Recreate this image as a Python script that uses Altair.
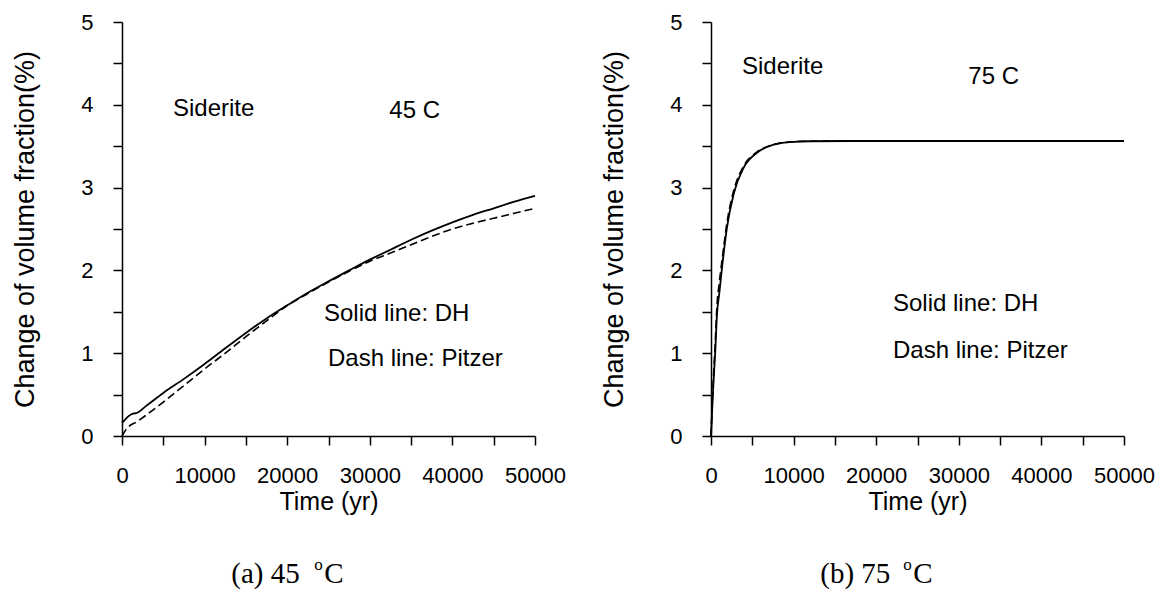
import altair as alt
import pandas as pd

# ---------------- data ----------------
# Panel (a) 45 C
t45_dh = [0, 300, 800, 1332, 1695, 3000, 5000, 7500, 10000, 12500, 15000, 17500, 20000,
          22500, 25000, 27500, 30000, 32500, 35000, 37500, 40000, 42500, 45000, 47500, 50000]
v45_dh = [0.16, 0.19, 0.24, 0.27, 0.275, 0.37, 0.52, 0.69, 0.87, 1.06, 1.245, 1.42, 1.578,
          1.73, 1.867, 2.00, 2.13, 2.25, 2.37, 2.48, 2.58, 2.67, 2.75, 2.83, 2.90]
t45_pz = [0, 500, 1937, 5000, 8184, 10000, 12500, 15000, 17500, 20000, 22500, 25000, 27500,
          30000, 32500, 35000, 37500, 40000, 42500, 45000, 47500, 50000]
v45_pz = [0.0, 0.08, 0.18, 0.41, 0.664, 0.81, 1.00, 1.20, 1.39, 1.575, 1.72, 1.86, 1.99,
          2.11, 2.21, 2.31, 2.41, 2.50, 2.57, 2.63, 2.69, 2.75]

# Panel (b) 75 C
t75_dh = [0, 250, 520, 726, 1000, 1332, 1937, 2736, 3947, 5569, 7579, 9600, 12000,
          20000, 30000, 40000, 50000]
v75_dh = [0.0, 0.55, 1.03, 1.47, 1.72, 2.03, 2.52, 2.92, 3.24, 3.42, 3.52, 3.55, 3.56,
          3.563, 3.563, 3.563, 3.563]
t75_pz = [0, 200, 520, 726, 1000, 1332, 1937, 2736, 3947, 5569, 7579, 9600, 12000,
          20000, 30000, 40000, 50000]
v75_pz = [0.0, 0.50, 1.15, 1.58, 1.85, 2.12, 2.58, 2.96, 3.26, 3.43, 3.52, 3.55, 3.56,
          3.563, 3.563, 3.563, 3.563]

# annotations (text, x in yr, y in %)
ann45_text = ["Siderite", "45 C", "Solid line: DH", "Dash line: Pitzer"]
ann45_x = [6174, 32360, 24455, 24939]
ann45_y = [3.865, 3.837, 1.389, 0.845]
ann75_text = ["Siderite", "75 C", "Solid line: DH", "Dash line: Pitzer"]
ann75_x = [3753, 31150, 22034, 22034]
ann75_y = [4.368, 4.251, 1.510, 0.946]

# captions below each panel
cap45 = ["(a) 45", "o", "C"]
cap75 = ["(b) 75", "o", "C"]
cap_x = [13232, 23281, 24492]
cap_y = [-1.781, -1.618, -1.781]
cap_size = [29, 17, 29]

x_ticks = list(range(0, 50001, 5000))
y_ticks = [i * 0.5 for i in range(11)]

W, H = 413, 414
SANS = "Liberation Sans"
SERIF = "Liberation Serif"


def panel(t_dh, v_dh, t_pz, v_pz, ann_text, ann_x, ann_y, cap_text):
    x_scale = alt.Scale(domain=[0, 50000], nice=False, zero=False)
    y_scale = alt.Scale(domain=[0, 5], nice=False)
    x_axis = alt.Axis(values=x_ticks,
                      labelExpr="datum.value % 10000 == 0 ? format(datum.value, 'd') : ''",
                      title="Time (yr)")
    y_axis = alt.Axis(values=y_ticks,
                      labelExpr="datum.value % 1 == 0 ? format(datum.value, 'd') : ''",
                      title="Change of volume fraction(%)")

    df_dh = pd.DataFrame({"t": t_dh, "v": v_dh})
    df_pz = pd.DataFrame({"t": t_pz, "v": v_pz})
    dh = alt.Chart(df_dh).mark_line(color="black", strokeWidth=1.8, interpolate="monotone").encode(
        x=alt.X("t:Q", scale=x_scale, axis=x_axis),
        y=alt.Y("v:Q", scale=y_scale, axis=y_axis),
    )
    pz = alt.Chart(df_pz).mark_line(color="black", strokeWidth=1.6, strokeDash=[8, 4],
                                    interpolate="monotone").encode(
        x=alt.X("t:Q", scale=x_scale),
        y=alt.Y("v:Q", scale=y_scale),
    )
    df_ann = pd.DataFrame({"text": ann_text, "x": ann_x, "y": ann_y})
    ann = alt.Chart(df_ann).mark_text(font=SANS, fontSize=24, align="left",
                                      baseline="alphabetic", color="black").encode(
        x=alt.X("x:Q", scale=x_scale), y=alt.Y("y:Q", scale=y_scale), text="text:N")
    df_cap = pd.DataFrame({"text": cap_text, "x": cap_x, "y": cap_y, "s": cap_size})
    cap = alt.Chart(df_cap).mark_text(font=SERIF, align="left", baseline="alphabetic",
                                      color="black").encode(
        x=alt.X("x:Q", scale=x_scale), y=alt.Y("y:Q", scale=y_scale), text="text:N",
        size=alt.Size("s:Q", scale=None, legend=None))
    return alt.layer(dh, pz, ann, cap).properties(width=W, height=H)


left = panel(t45_dh, v45_dh, t45_pz, v45_pz, ann45_text, ann45_x, ann45_y, cap45)
right = panel(t75_dh, v75_dh, t75_pz, v75_pz, ann75_text, ann75_x, ann75_y, cap75)

chart = alt.hconcat(left, right, spacing=33).properties(
    padding={"left": 3, "top": 2, "right": 0, "bottom": 0}
).configure_view(stroke="transparent").configure_axis(
    grid=False, domainColor="black", tickColor="black", domainWidth=1.5, tickWidth=1.5,
    tickSize=9, labelFont=SANS, titleFont=SANS, labelColor="black", titleColor="black",
    labelFontSize=22, titleFontWeight="normal", labelOverlap=False, labelFlush=False
).configure_axisX(
    titleFontSize=25, labelPadding=20, titlePadding=3
).configure_axisY(
    titleFontSize=27, labelPadding=20, titlePadding=41
)

chart.save("out.html", embed_options={"renderer": "svg", "actions": False})
